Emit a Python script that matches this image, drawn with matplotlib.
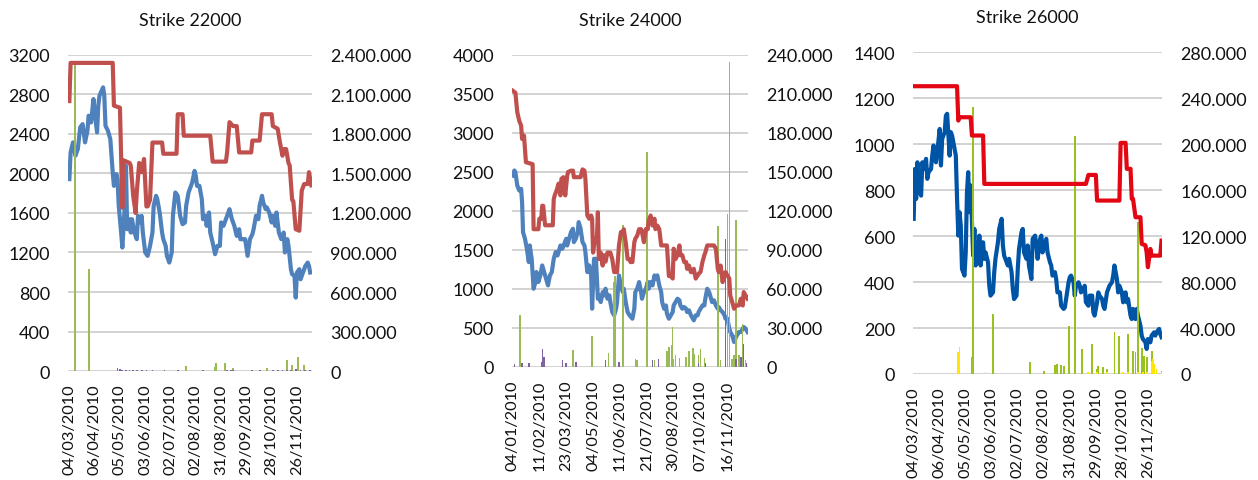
import matplotlib
matplotlib.use("Agg")
import matplotlib.pyplot as plt
from matplotlib.ticker import FuncFormatter

plt.rcParams["font.family"] = ["Lato", "DejaVu Sans"]

# ---------------- Strike 22000 ----------------
dates_22000 = ["04/03/2010", "06/04/2010", "05/05/2010", "03/06/2010", "02/07/2010",
               "02/08/2010", "31/08/2010", "29/09/2010", "28/10/2010", "26/11/2010"]

price_days_22000 = [0, 1, 3, 5, 7, 9, 11, 13, 15, 16, 18, 20, 21, 23, 24, 25, 28, 29, 30, 32,
                    34, 36, 37, 39, 40, 41, 43, 44, 46, 47, 48, 50, 51, 52, 54, 56, 57, 59, 60, 61,
                    63, 65, 67, 69, 70, 72, 73, 75, 77, 78, 80, 81, 83, 85, 86, 88, 90, 92, 94, 96,
                    97, 99, 101, 102, 104, 105, 106, 108, 110, 111, 113, 114, 116, 117, 119, 121, 123, 125, 126, 128,
                    130, 132, 133, 135, 137, 139, 141, 142, 144, 146, 148, 150, 152, 153, 155, 157, 158, 160, 161, 163,
                    164, 166, 168, 169, 171, 172, 174, 176, 178, 179, 181, 182, 184, 185, 187, 188, 189, 191, 192, 194,
                    196, 198, 199, 200]
price_22000 = [1943, 2213, 2315, 2180, 2247, 2467, 2500, 2315, 2433, 2585,
               2517, 2754, 2619, 2416, 2686, 2788, 2872, 2788, 2483, 2433,
               2348, 2011, 1875, 1994, 1943, 1673, 1402, 1250, 1673, 2078,
               1436, 1537, 1402, 1537, 1402, 1335, 1571, 1504, 1571, 1402,
               1200, 1166, 1267, 1402, 1673, 1774, 1740, 1605, 1402, 1335,
               1267, 1166, 1098, 1200, 1571, 1808, 1774, 1571, 1487, 1504,
               1673, 1808, 1875, 1909, 2027, 1977, 1875, 1875, 1740, 1537,
               1571, 1470, 1605, 1402, 1301, 1183, 1267, 1267, 1504, 1470,
               1537, 1605, 1639, 1537, 1470, 1368, 1436, 1335, 1335, 1335,
               1166, 1335, 1385, 1436, 1571, 1537, 1673, 1774, 1706, 1639,
               1656, 1605, 1504, 1571, 1470, 1605, 1402, 1335, 1402, 1200,
               1335, 1267, 1031, 980, 963, 743, 997, 1031, 929, 997,
               1064, 1098, 1064, 997]

level_days_22000 = [0, 1, 36, 37, 42, 44, 45, 50, 51, 53, 55, 56, 58, 60, 62, 64, 65, 67, 69, 77,
                    78, 89, 90, 94, 95, 117, 119, 130, 131, 133, 136, 139, 141, 151, 152, 158, 160, 168, 169, 173,
                    175, 177, 178, 180, 182, 183, 185, 186, 188, 191, 193, 195, 198, 199, 201]
level_22000 = [2050000, 2340000, 2340000, 2015000, 2000000, 1240000, 1600000, 1580000, 1560000, 1330000,
               1200000, 1360000, 1580000, 1510000, 1610000, 1250000, 1250000, 1300000, 1735000, 1735000,
               1650000, 1650000, 1950000, 1950000, 1787000, 1787000, 1590000, 1590000, 1660000, 1890000,
               1860000, 1860000, 1660000, 1660000, 1750000, 1750000, 1950000, 1950000, 1860000, 1840000,
               1730000, 1635000, 1685000, 1685000, 1580000, 1560000, 1300000, 1290000, 1077000, 1065000,
               1370000, 1420000, 1420000, 1510000, 1410000]

green_days_22000 = [5, 16, 97, 121, 122, 129, 136, 164, 181, 185, 190, 195]
green_22000 = [2330000, 773000, 40000, 31000, 63000, 58000, 26000, 26000, 87000, 47000, 110000, 47000]
purple_days_22000 = [40, 42, 44, 47, 50, 53, 56, 60, 64, 69, 79, 90, 111, 131, 134, 136,
                     152, 158, 169, 173, 177, 181, 184, 188, 192, 196, 200]
purple_22000 = [20000, 12000, 8000, 6000, 8000, 6000, 7000, 5000, 6000, 4000, 5000, 4000, 4000, 8000, 6000, 8000,
                5000, 6000, 8000, 6000, 9000, 10000, 8000, 12000, 9000, 8000, 6000]

# ---------------- Strike 24000 ----------------
dates_24000 = ["04/01/2010", "11/02/2010", "23/03/2010", "04/05/2010", "11/06/2010",
               "21/07/2010", "30/08/2010", "07/10/2010", "16/11/2010"]

price_days_24000 = [0, 2, 3, 5, 7, 9, 10, 11, 13, 15, 17, 18, 20, 22, 24, 25, 27, 29, 31, 33,
                    35, 37, 39, 41, 43, 45, 47, 49, 50, 52, 54, 56, 57, 59, 61, 63, 64, 66, 68, 69,
                    71, 73, 75, 76, 78, 80, 82, 83, 85, 87, 89, 90, 92, 94, 96, 97, 99, 101, 102, 104,
                    106, 108, 109, 111, 113, 115, 116, 118, 120, 122, 125, 127, 128, 130, 132, 134, 135, 137, 139, 141,
                    142, 144, 146, 148, 149, 151, 153, 155, 156, 158, 160, 161, 163, 165, 167, 168, 170, 172, 174, 175,
                    177, 179, 181, 182, 184, 186, 188, 189, 191, 193, 194, 196, 198, 200, 201, 203, 205, 207, 208, 210,
                    212, 214, 215, 217, 219, 221, 222, 224, 226, 227, 229, 231, 233, 234, 236, 238, 240, 241, 243, 245]
price_24000 = [2455, 2519, 2497, 2327, 2263, 2284, 2113, 1729, 1644, 1516,
               1345, 1558, 1387, 1003, 1089, 1217, 1089, 1174, 1302, 1217,
               1131, 1046, 1174, 1217, 1387, 1473, 1430, 1516, 1558, 1516,
               1580, 1644, 1558, 1644, 1729, 1772, 1601, 1644, 1729, 1857,
               1772, 1601, 1558, 1473, 1217, 1302, 1174, 747, 1387, 1387,
               875, 918, 832, 960, 918, 1003, 875, 918, 832, 704,
               662, 747, 832, 1174, 1046, 960, 1003, 832, 704, 662,
               619, 747, 960, 1003, 1089, 960, 875, 960, 1003, 1089,
               1003, 1089, 1046, 1174, 1131, 1174, 1046, 960, 832, 747,
               789, 683, 619, 662, 704, 789, 832, 875, 854, 789,
               747, 768, 747, 704, 726, 662, 619, 598, 662, 662,
               704, 747, 789, 789, 875, 1003, 960, 875, 832, 854,
               789, 747, 768, 726, 704, 662, 619, 619, 491, 448,
               406, 320, 384, 406, 448, 448, 491, 512, 491, 448]

level_days_24000 = [0, 3, 5, 7, 9, 10, 12, 14, 21, 22, 27, 28, 30, 31, 32, 34, 42, 43, 44, 46,
                    48, 50, 51, 53, 55, 57, 58, 61, 63, 64, 71, 73, 75, 76, 78, 80, 82, 83, 84, 86,
                    88, 89, 90, 92, 94, 95, 97, 99, 102, 104, 106, 109, 111, 113, 115, 116, 118, 120, 122, 123,
                    125, 127, 128, 130, 132, 134, 135, 137, 139, 141, 142, 144, 146, 148, 149, 151, 153, 155, 161, 163,
                    165, 167, 168, 170, 172, 174, 175, 177, 179, 181, 182, 184, 186, 188, 189, 191, 193, 194, 196, 198,
                    200, 201, 203, 210, 212, 214, 215, 217, 219, 221, 222, 224, 226, 227, 229, 231, 233, 236, 238, 240,
                    241, 243, 245]
level_24000 = [212600, 211000, 196000, 189500, 185700, 175400, 178000, 157500, 156000, 106000,
               106000, 114000, 114000, 124000, 124000, 109000, 109000, 129000, 132000, 135800,
               141000, 132000, 144700, 146000, 132000, 147000, 150000, 151000, 151000, 146000,
               146000, 152000, 151000, 144700, 116500, 114000, 116500, 114000, 88000, 98600,
               98600, 119000, 83000, 88000, 78000, 86000, 81000, 88000, 88000, 83000,
               73000, 73000, 93500, 103700, 103700, 106000, 96000, 83000, 83000, 80700,
               80700, 96000, 98600, 101000, 106000, 106000, 103700, 96000, 106000, 106000,
               112700, 116500, 108800, 114000, 106000, 108800, 106000, 93500, 93500, 70000,
               70000, 68000, 91000, 83000, 86000, 93500, 86000, 86000, 80700, 80700,
               75500, 78000, 73000, 73000, 75500, 68000, 70400, 71700, 73000, 80700,
               86000, 88000, 93500, 93500, 91000, 75500, 73000, 78000, 65300, 70400,
               73000, 70400, 68000, 55000, 50000, 44800, 47300, 47300, 52500, 47300,
               57600, 55000, 52500]

green_days_24000 = [8, 63, 83, 100, 106, 107, 115, 128, 130, 140, 148, 161, 163, 166, 167, 168, 170, 174,
                    181, 184, 188, 189, 194, 196, 200, 214, 217, 224, 226, 229, 231, 233, 236, 240, 243]
green_24000 = [39700, 12800, 23800, 11000, 65000, 70000, 109000, 6400, 5000, 165700, 5000, 12000, 15000,
               16600, 30700, 6000, 9000, 7000, 8000, 12000, 14600, 10000, 9000, 14000, 7000, 108800, 5000,
               117800, 234800, 6000, 9000, 112700, 9000, 33000, 5000]
purple_days_24000 = [2, 10, 17, 30, 31, 33, 52, 56, 66, 97, 111, 146, 152, 194, 201, 222, 233, 238, 241, 244]
purple_24000 = [2000, 3000, 3000, 4000, 14000, 8000, 5000, 3000, 4000, 5000, 4000, 5000, 6000, 3000, 3000,
                98600, 6000, 8000, 18000, 3000]

# ---------------- Strike 26000 ----------------
dates_26000 = dates_22000

price_days_26000 = [0, 1, 2, 3, 4, 6, 7, 8, 10, 11, 12, 14, 15, 16, 18, 19, 21, 22, 23, 25,
                    26, 27, 29, 30, 31, 33, 34, 35, 36, 37, 38, 39, 41, 42, 43, 44, 45, 46, 48, 49,
                    50, 51, 52, 53, 54, 56, 57, 58, 60, 61, 62, 64, 65, 66, 68, 69, 71, 72, 73, 75,
                    76, 77, 79, 80, 81, 83, 84, 85, 87, 88, 89, 91, 92, 93, 95, 96, 98, 99, 100, 102,
                    103, 104, 106, 107, 108, 110, 111, 112, 114, 115, 116, 118, 119, 121, 122, 123, 125, 126, 127, 129,
                    130, 131, 133, 134, 135, 137, 138, 139, 141, 142, 144, 145, 146, 148, 149, 150, 152, 153, 154, 156,
                    157, 158, 160, 161, 162, 164, 165, 166, 168, 169, 171, 172, 173, 175, 176, 177, 179, 180, 181, 183,
                    184, 185, 187, 188, 189, 191, 192, 194, 195, 196, 198, 199, 200]
price_26000 = [675, 892, 762, 921, 805, 776, 921, 892, 936, 849,
               878, 892, 950, 994, 921, 965, 1066, 907, 1023, 1052,
               1124, 1132, 950, 1052, 1037, 979, 950, 762, 602, 704,
               646, 457, 428, 529, 791, 878, 704, 820, 515, 631,
               472, 573, 486, 602, 472, 573, 501, 529, 486, 384,
               341, 355, 443, 501, 573, 631, 675, 559, 515, 486,
               472, 501, 443, 370, 326, 341, 457, 544, 617, 631,
               529, 501, 559, 472, 413, 588, 602, 559, 501, 588,
               602, 529, 573, 588, 529, 486, 472, 428, 443, 413,
               355, 355, 297, 283, 290, 326, 399, 421, 428, 399,
               341, 384, 399, 384, 355, 370, 384, 312, 297, 341,
               341, 268, 254, 312, 355, 341, 326, 297, 283, 355,
               370, 384, 399, 428, 472, 413, 355, 384, 355, 312,
               355, 312, 326, 254, 239, 283, 239, 283, 254, 210,
               167, 152, 138, 109, 152, 138, 167, 181, 167, 181,
               196, 174, 160]

level_days_26000 = [0, 35, 36, 37, 46, 47, 56, 57, 139, 141, 147, 148, 166, 167, 171, 172, 175, 176, 177, 179,
                    183, 184, 187, 188, 189, 191, 192, 199, 200]
level_26000 = [250400, 250400, 220500, 223400, 223400, 207500, 207500, 165400, 165400, 173200,
               173200, 150900, 150900, 201100, 201100, 178500, 178500, 152400, 152400, 136400,
               136400, 113200, 112000, 105900, 92900, 108800, 103000, 103000, 116000]

green_days_26000 = [47, 48, 64, 94, 105, 114, 116, 119, 121, 125, 130, 136, 144, 148, 149, 153, 156,
                    162, 166, 173, 177, 179, 181, 184, 186, 188, 192, 200]
green_26000 = [14500, 232000, 52200, 10700, 3000, 8000, 8700, 8000, 7000, 42000, 207500, 21800, 26000,
               4000, 7000, 6000, 4000, 36300, 33000, 34800, 20000, 19000, 132000, 23000, 16000, 14500, 20000, 3000]
yellow_days_26000 = [36, 37, 58, 141, 148, 156, 169, 173, 181, 185, 188, 192, 193, 194, 196, 200]
yellow_26000 = [18900, 23200, 2000, 2000, 2000, 2000, 2000, 2000, 2000, 2000, 2000, 11600, 13000, 8700, 4400, 2000]


def dotted_thousands(v, pos):
    return f"{int(round(v)):,}".replace(",", ".")


def draw_panel(fig, rect, title, dates, tick_step, xlim,
               price_days, price, left_max, left_step,
               level_days, level, right_max, right_step,
               bars, line_colors, title_x=0.5):
    ax = fig.add_axes(rect)
    ax2 = ax.twinx()

    ax.plot(price_days, price, color=line_colors[0], lw=3.0, solid_joinstyle="round", zorder=3)
    for days, vals, color in bars:
        ax2.bar(days, vals, width=1.5, color=color, linewidth=0, zorder=2)
    ax2.plot(level_days, level, color=line_colors[1], lw=3.0, solid_joinstyle="round", zorder=4)

    ax.set_xlim(*xlim)
    ax.set_ylim(0, left_max)
    ax2.set_ylim(0, right_max)
    ax.set_yticks(range(0, left_max + 1, left_step))
    ax2.set_yticks(range(0, right_max + 1, right_step))
    ax2.yaxis.set_major_formatter(FuncFormatter(dotted_thousands))

    ax.set_xticks([i * tick_step for i in range(len(dates))])
    ax.set_xticklabels(dates, rotation=90, fontsize=11.8)

    ax.grid(axis="y", color="#c6c6c6", lw=1.1)
    ax.set_axisbelow(True)
    for a in (ax, ax2):
        for s in a.spines.values():
            s.set_visible(False)
        a.tick_params(axis="y", length=0, labelsize=13, colors="#111111", pad=13)
    ax.tick_params(axis="x", length=0, colors="#111111", pad=9)

    ax.text(title_x, 1.085, title, transform=ax.transAxes, ha="center", va="bottom",
            fontsize=13, color="#111111")
    return ax, ax2


fig = plt.figure(figsize=(12.58, 4.81), dpi=100)

draw_panel(fig, [0.054, 0.2266, 0.194, 0.657], "Strike 22000", dates_22000, 21, (-1.2, 201.5),
           price_days_22000, price_22000, 3200, 400,
           level_days_22000, level_22000, 2400000, 300000,
           [(green_days_22000, green_22000, "#9bbb59"), (purple_days_22000, purple_22000, "#8064a2")],
           ("#4f81bd", "#c0504d"))

draw_panel(fig, [0.407, 0.235, 0.1876, 0.6486], "Strike 24000", dates_24000, 28, (-0.5, 245.5),
           price_days_24000, price_24000, 4000, 500,
           level_days_24000, level_24000, 240000, 30000,
           [(green_days_24000, green_24000, "#9bbb59"), (purple_days_24000, purple_24000, "#8064a2")],
           ("#4f81bd", "#c0504d"))

draw_panel(fig, [0.7258, 0.2204, 0.198, 0.669], "Strike 26000", dates_26000, 21, (-0.5, 200.5),
           price_days_26000, price_26000, 1400, 200,
           level_days_26000, level_26000, 280000, 40000,
           [(green_days_26000, green_26000, "#99c221"), (yellow_days_26000, yellow_26000, "#ffe600")],
           ("#0054a6", "#e30613"), title_x=0.46)

fig.savefig("out.png", dpi=100)
